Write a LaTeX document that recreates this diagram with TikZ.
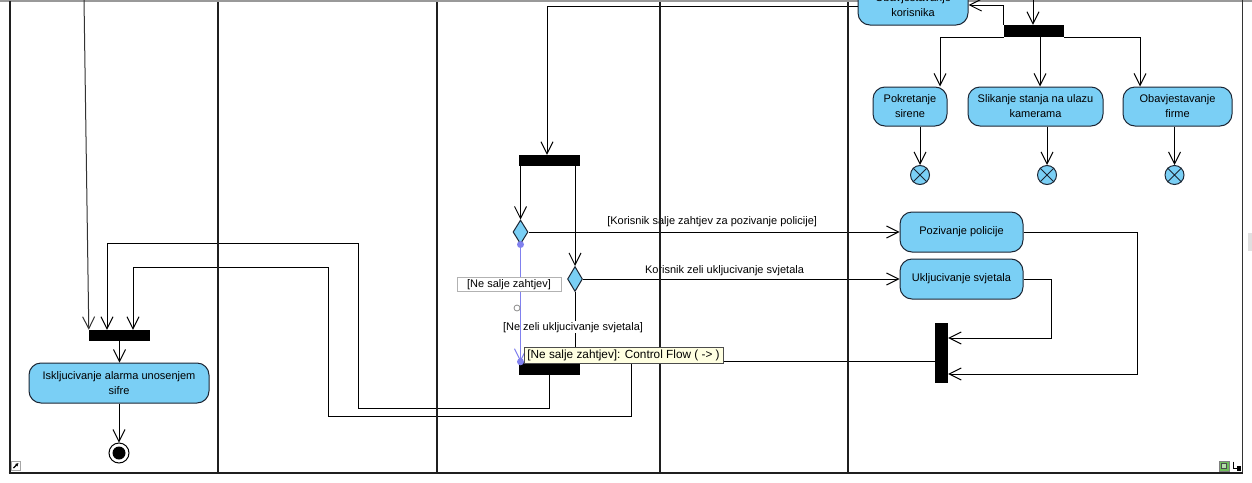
\documentclass[tikz,border=0pt]{standalone}
\usepackage{fontspec}
\setmainfont{Liberation Sans}
\usetikzlibrary{arrows.meta,shapes.geometric,calc}
\definecolor{actblue}{RGB}{122,207,245}
\definecolor{actborder}{RGB}{28,38,52}
\definecolor{selblue}{RGB}{128,128,238}
\definecolor{tipyellow}{RGB}{255,255,225}
\definecolor{icongreen}{RGB}{110,190,90}
\begin{document}
\begin{tikzpicture}[x=1pt,y=-1pt,
  txt/.style={font=\fontsize{11}{15}\selectfont},
  act/.style={txt, draw=actborder, fill=actblue, line width=1pt, rounded corners=12pt, align=center, inner sep=0pt},
  syncbar/.style={fill=black, draw=none, inner sep=0pt},
  dec/.style={diamond, draw=actborder, fill=actblue, line width=1pt, inner sep=0pt, minimum width=15pt},
  ffin/.style={circle, draw=actborder, fill=actblue, line width=1pt, inner sep=0pt, minimum size=19pt},
  cflow/.style={draw=black, line width=1pt, -{Straight Barb[length=12pt,width=12pt]}},
  selflow/.style={draw=selblue, line width=1pt, -{Straight Barb[length=12pt,width=12pt]}},
  lbl/.style={txt, fill=white, inner sep=1pt},
  laneline/.style={draw=black!88, line width=2pt},
]
\useasboundingbox (0,0) rectangle (1252,482);
\clip (0,0) rectangle (1252,482);
\fill[white] (0,0) rectangle (1252,482);
\fill[black!40] (0,0) rectangle (1252,2);
\fill[black!12] (1248,233) rectangle (1252,251);

% ---- nodes ----
\node[act, minimum width=110pt, minimum height=40pt] (kor) at (913,5) {Obavjestavanje\\korisnika};
\node[syncbar, minimum width=60pt, minimum height=12pt] (tfork) at (1034,31) {};
\node[act, minimum width=74pt, minimum height=39pt] (sir) at (910,106.5) {Pokretanje\\sirene};
\node[act, minimum width=135pt, minimum height=39pt] (slik) at (1035.5,106.5) {Slikanje stanja na ulazu\\kamerama};
\node[act, minimum width=109pt, minimum height=39pt] (firm) at (1177.5,106.5) {Obavjestavanje\\firme};
\node[ffin] (fin1) at (920,175) {};
\node[ffin] (fin2) at (1047,175) {};
\node[ffin] (fin3) at (1174.5,175) {};
\foreach \f in {fin1,fin2,fin3}
  \draw[actborder, line width=1pt] (\f.north west) -- (\f.south east) (\f.north east) -- (\f.south west);
\node[act, minimum width=123pt, minimum height=40pt] (poz) at (961.5,232) {Pozivanje policije};
\node[act, minimum width=123pt, minimum height=40pt] (uklj) at (961.5,279) {Ukljucivanje svjetala};
\node[syncbar, minimum width=13pt, minimum height=60pt] (jbar) at (941.5,353) {};
\node[syncbar, minimum width=61pt, minimum height=11pt] (mfork) at (549.5,160.5) {};
\node[dec, minimum height=24pt] (d1) at (520.5,232) {};
\node[dec, minimum height=25pt] (d2) at (575,279) {};
\node[syncbar, minimum width=61pt, minimum height=13pt] (bbar) at (549.5,368.5) {};
\node[syncbar, minimum width=61pt, minimum height=11pt] (lbar) at (119.5,335.5) {};
\node[act, minimum width=180pt, minimum height=40pt] (iskl) at (119,383) {Iskljucivanje alarma unosenjem\\sifre};
\node[circle, draw=black, line width=1pt, fill=white, minimum size=20pt, inner sep=0pt] (fend) at (119,453) {};
\node[circle, fill=black, minimum size=13pt, inner sep=0pt] (fendin) at (fend) {};

% ---- connectors ----
\coordinate (topL) at (84,-1);
\draw[cflow, draw=black!80] (topL) -- (lbar.north west);
\coordinate (k1) at (547,6);
\draw[cflow] (kor.west |- k1) -- (k1) -- (k1 |- mfork.north);
\draw[cflow] (tfork.north west) -- (tfork.north west |- 0,5) -- (kor.east |- 0,5);
\coordinate (topT) at (1033,-1);
\draw[cflow] (topT) -- (topT |- tfork.north);
\draw[cflow] (tfork.south west) -- (940,0 |- tfork.south) -- (940,0 |- sir.north);
\draw[cflow] (1040,0 |- tfork.south) -- (1040,0 |- slik.north);
\draw[cflow] (tfork.south east) -- (1140,0 |- tfork.south) -- (1140,0 |- firm.north);
\draw[cflow] (fin1 |- sir.south) -- (fin1.north);
\draw[cflow] (fin2 |- slik.south) -- (fin2.north);
\draw[cflow] (fin3 |- firm.south) -- (fin3.north);

\draw[cflow] (d1 |- mfork.south) -- (d1.north);
\draw[cflow] (d2 |- mfork.south) -- (d2.north);
\draw[cflow] (d1.east) -- (poz.west)
  node[lbl, pos=0.495, above=4pt, fill=none] (l1) {[Korisnik salje zahtjev za pozivanje policije]};
\draw[cflow] (d2.east) -- (uklj.west)
  node[lbl, pos=0.447, above=2pt, fill=none] (l2) {Korisnik zeli ukljucivanje svjetala};
\draw[cflow] (d2.south) -- (d2.south |- bbar.north)
  node[lbl, pos=0.504, xshift=-2pt] (l3) {[Ne zeli ukljucivanje svjetala]};
\draw[selflow] (d1.south) -- (d1.south |- bbar.north)
  node[lbl, pos=0.339, xshift=-11.5pt, draw=black!30, line width=0.8pt, minimum width=104pt, minimum height=14pt, inner sep=0pt] (l4) {[Ne salje zahtjev]};
\fill[selblue] (d1.south) circle (3.5pt);
\fill[selblue] (d1.south |- bbar.north) circle (3.5pt);
\draw[black!45, fill=white, line width=0.8pt] (517,308) circle (3pt);

\draw[cflow] (poz.east) -- (1137,0 |- poz.east) -- (1137,374) -- (jbar.east |- 0,374);
\draw[cflow] (uklj.east) -- (1051,0 |- uklj.east) -- (1051,338) -- (jbar.east |- 0,338);
\draw[cflow] (jbar.west |- 0,361) -- (631,361) -- (631,416) -- (328,416) -- (328,267) -- (133,267) -- (133,0 |- lbar.north);
\draw[cflow] (549,0 |- bbar.south) -- (549,408) -- (358,408) -- (358,243) -- (107,243) -- (107,0 |- lbar.north);
\draw[cflow] (lbar.south) -- (lbar.south |- iskl.north);
\draw[cflow] (iskl.south) -- (fend.north);

% ---- swimlanes ----
\draw[laneline] (9.5,1) -- (9.5,472.5);
\draw[laneline] (218,2) -- (218,472.5);
\draw[laneline] (436.5,2) -- (436.5,472.5);
\draw[laneline] (660,2) -- (660,472.5);
\draw[laneline] (847.5,2) -- (847.5,472.5);
\draw[black!80, line width=1.5pt] (1242.5,0) -- (1242.5,473);
\draw[laneline] (8.5,472.5) -- (1243,472.5);

% ---- corner icons ----
\draw[black!35, fill=white, line width=0.6pt] (11,461) rectangle (20,470);
\draw[black, line width=1.2pt, -{Latex[length=3pt,width=3.5pt]}] (13.5,468) -- (18.5,463);
\draw[black!50, fill=icongreen, line width=0.6pt] (1219,461) rectangle (1229,471);
\draw[black!70, fill=icongreen!50!white, line width=0.6pt] (1221.5,463.5) rectangle (1226.5,468.5);
\draw[black, line width=0.8pt] (1233,461.5) -- (1233,468) -- (1237,468);
\fill[black] (1237,465.5) rectangle (1241,471);

% ---- tooltip ----
\node[font=\fontsize{11.8}{14}\selectfont, draw=black!70, fill=tipyellow, line width=0.8pt, inner sep=0pt, minimum width=199pt, minimum height=16pt] (tt) at (623.5,355) {[Ne salje zahtjev]: Control Flow ( -> )};
\end{tikzpicture}
\end{document}
